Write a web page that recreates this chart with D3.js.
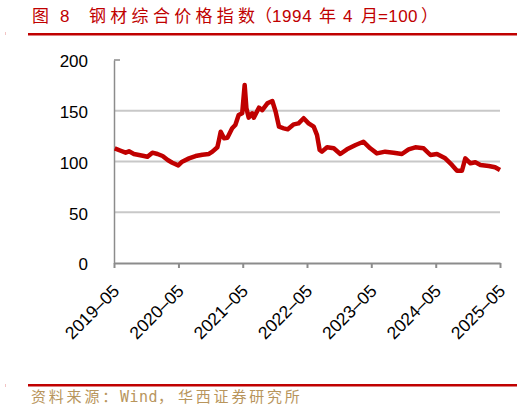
<!DOCTYPE html>
<html>
<head>
<meta charset="utf-8">
<script src="https://cdn.jsdelivr.net/npm/d3@7"></script>
<style>
  body { margin: 0; background: #fff; }
  svg { display: block; }
</style>
</head>
<body>
<svg id="chart" width="532" height="412"></svg>
<script>
// values
const dates = [
  "2019-05-05","2019-06-08","2019-07-06","2019-07-25","2019-08-22","2019-09-20","2019-10-18","2019-11-07",
  "2019-12-05","2020-01-03","2020-02-01","2020-03-01","2020-03-27","2020-04-30","2020-05-22","2020-06-30",
  "2020-08-06","2020-09-14","2020-10-21","2020-11-10","2020-12-08","2020-12-17","2020-12-27","2021-01-15",
  "2021-02-03","2021-03-02","2021-03-20","2021-04-08","2021-04-28","2021-05-12","2021-05-22","2021-06-04",
  "2021-06-24","2021-07-03","2021-08-01","2021-08-20","2021-09-18","2021-10-16","2021-11-04","2021-11-23",
  "2021-12-20","2022-01-12","2022-02-15","2022-03-14","2022-04-12","2022-05-10","2022-06-08","2022-06-27",
  "2022-07-12","2022-07-25","2022-08-23","2022-09-30","2022-11-06","2022-12-14","2023-02-01","2023-03-17",
  "2023-04-25","2023-06-02","2023-07-19","2023-09-05","2023-10-22","2023-11-29","2024-01-06","2024-02-22",
  "2024-04-01","2024-05-08","2024-06-24","2024-08-01","2024-08-30","2024-09-27","2024-10-16","2024-11-14",
  "2024-12-12","2025-01-10","2025-02-26","2025-04-03","2025-05-01"
];
const values = [
  113, 110.6, 108.7, 110, 107.4, 106.4, 105.4, 104.7,
  108.7, 107.4, 105.4, 101.5, 98.8, 96.2, 99.8, 103.1,
  105.4, 106.7, 107.4, 109.7, 114, 121, 129.4, 122.8,
  123.4, 132.7, 136, 145.8, 147.5, 175.4, 152.4, 143.2,
  147.5, 143.2, 153, 150.7, 157.3, 159.6, 149, 134.3,
  132.7, 131.7, 136.6, 137.6, 142.6, 137.6, 134.3, 126,
  111.3, 109.7, 114, 113, 107.4, 112, 116.3, 119.5,
  113, 108, 109.7, 108.7, 107.4, 112, 114, 113,
  106.4, 107.4, 103.1, 96.6, 90.9, 90.9, 103.1, 98.2,
  99.2, 96.6, 95.6, 94.3, 91.6
];
const yTicks = [0, 50, 100, 150, 200];
const xTickLabels = ["2019-05","2020-05","2021-05","2022-05","2023-05","2024-05","2025-05"];

const parse = d3.timeParse("%Y-%m-%d");
const data = dates.map((d, i) => ({ date: parse(d), value: values[i] }));
const xTicks = xTickLabels.map(d => d3.timeParse("%Y-%m")(d));

const svg = d3.select("#chart");
const red = "#c00000";
const gold = "#b8955c";
const cjk = "'Noto Sans CJK SC', sans-serif";
const latin = "'Liberation Sans', Arial, sans-serif";

// plot area
const margin = { top: 60, right: 32, bottom: 149, left: 114 };
const width = 532 - margin.left - margin.right,
  height = 412 - margin.top - margin.bottom;

const x = d3.scaleTime().domain([xTicks[0], xTicks[xTicks.length - 1]]).range([0, width]);
const y = d3.scaleLinear().domain([0, 200]).range([height, 0]);

// title, pieces placed like the original
const title = svg.append("text")
  .attr("y", 22)
  .attr("fill", red)
  .style("font-family", cjk)
  .style("font-size", "17px");
[
  ["图", 32, 0, cjk], ["8", 60, 0, latin], ["钢材综合价格指", 89, 4.3, cjk], ["数", 238, 0, cjk],
  ["（", 255, 0, cjk], ["1994", 272, 0.6, latin], ["年", 319, 0, cjk],
  ["4", 343, 0, latin], ["月", 361, 0, cjk], ["=100", 378, 0.4, latin], ["）", 421, 0, cjk]
].forEach(([t, px, ls, f]) => {
  title.append("tspan").attr("x", px).style("letter-spacing", ls + "px").style("font-family", f).text(t);
});

svg.append("rect").attr("x", 28).attr("y", 33).attr("width", 489).attr("height", 2.5).attr("fill", red);
svg.append("rect").attr("x", 28).attr("y", 384).attr("width", 489).attr("height", 2.5).attr("fill", red);
svg.append("rect").attr("x", 5).attr("y", 32).attr("width", 1).attr("height", 3).attr("fill", "#f2c4c4");
svg.append("rect").attr("x", 5).attr("y", 384).attr("width", 1).attr("height", 3).attr("fill", "#f2c4c4");

// source note
const src = svg.append("text")
  .attr("y", 402)
  .attr("fill", gold)
  .style("font-family", cjk)
  .style("font-size", "15px");
[
  ["资料来源：", 31, 2.8, cjk], ["Wind", 120, 0.5, "'DejaVu Sans Mono', monospace"],
  ["，", 158, 0, cjk], ["华西证券研究所", 178, 2.8, cjk]
].forEach(([t, px, ls, f]) => {
  src.append("tspan").attr("x", px).style("letter-spacing", ls + "px").style("font-family", f).text(t);
});

const g = svg.append("g").attr("transform", `translate(${margin.left},${margin.top})`);

// gridlines
g.selectAll(".grid")
  .data(yTicks.filter(d => d > 0 && d < 200))
  .join("line")
  .attr("x1", 0).attr("x2", width)
  .attr("y1", d => y(d)).attr("y2", d => y(d))
  .attr("stroke", "#c8c8c8")
  .attr("stroke-width", 2);

// y axis
const yAxis = g.append("g")
  .call(d3.axisLeft(y).tickValues(yTicks).tickSize(0).tickPadding(26));
yAxis.select(".domain").attr("stroke", "#8c8c8c").attr("stroke-width", 1.5);
yAxis.selectAll("text")
  .attr("fill", "#000")
  .attr("dy", "0.4em")
  .style("font-family", latin)
  .style("font-size", "17px");
g.append("line")
  .attr("x1", 0).attr("x2", 6).attr("y1", y(200)).attr("y2", y(200))
  .attr("stroke", "#8c8c8c").attr("stroke-width", 1.5);

// x axis
const xAxis = g.append("g")
  .attr("transform", `translate(0,${height})`)
  .call(d3.axisBottom(x).tickValues(xTicks).tickSize(5).tickSizeOuter(0)
    .tickFormat((d, i) => xTickLabels[i].replace("-", "–")));
xAxis.select(".domain").attr("stroke", "#8c8c8c").attr("stroke-width", 2);
xAxis.selectAll(".tick line").attr("stroke", "#8c8c8c").attr("stroke-width", 2);
xAxis.selectAll("text")
  .attr("fill", "#000")
  .style("font-family", latin)
  .style("font-size", "17.5px")
  .attr("text-anchor", "end")
  .attr("transform", "translate(6,29) rotate(-45)")
  .attr("dy", 0)
  .attr("y", 0);

// line
const line = d3.line().x(d => x(d.date)).y(d => y(d.value));
g.append("path")
  .datum(data)
  .attr("fill", "none")
  .attr("stroke", red)
  .attr("stroke-width", 4.5)
  .attr("stroke-linejoin", "round")
  .attr("d", line);
</script>
</body>
</html>
